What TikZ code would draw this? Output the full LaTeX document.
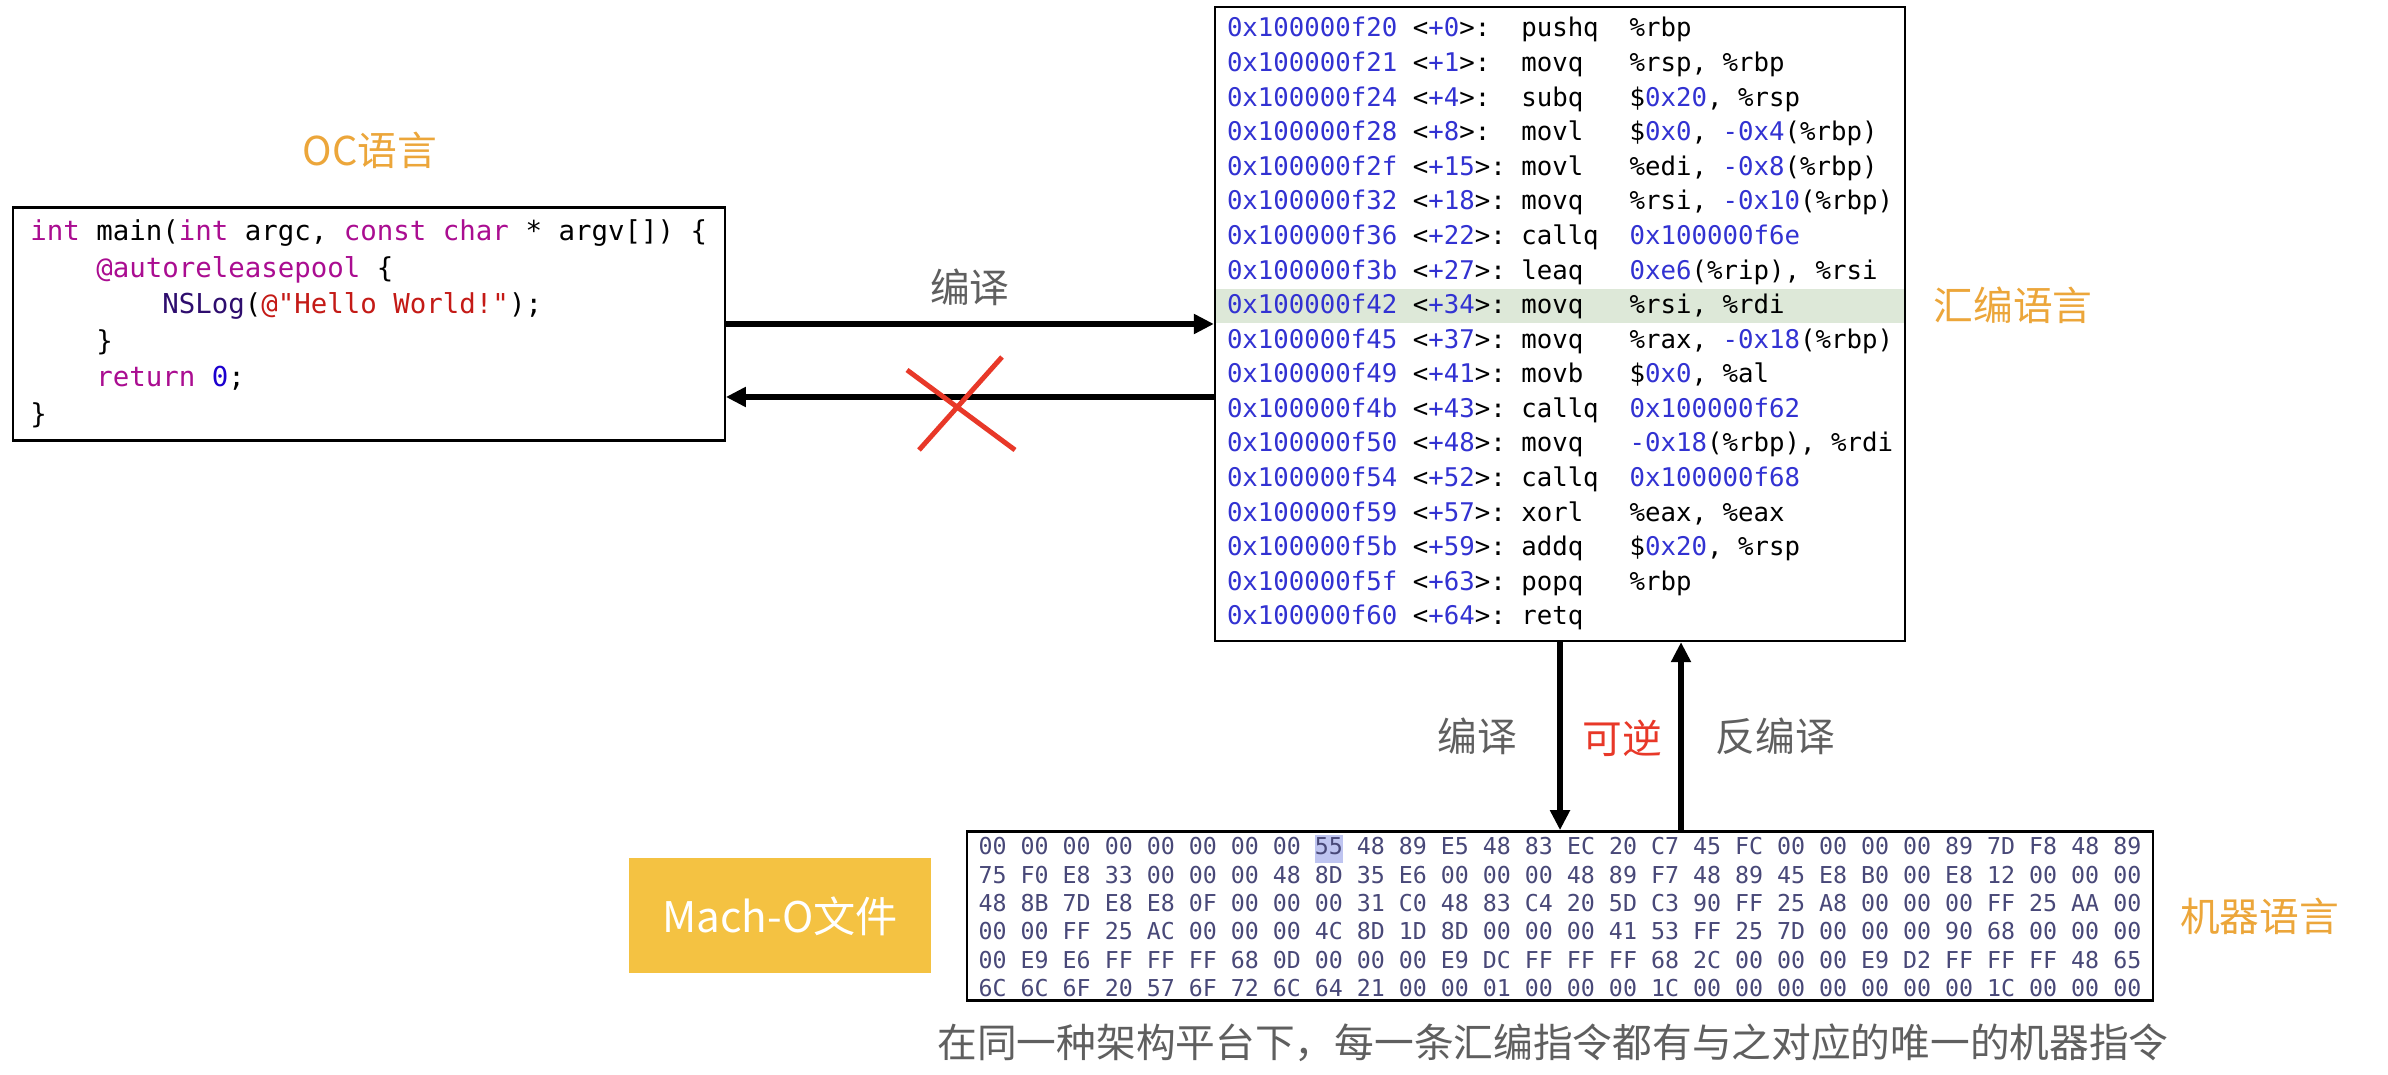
\documentclass[tikz,border=0pt]{standalone}
\usepackage{fontspec}
\usepackage{tikz}
\usetikzlibrary{arrows.meta, positioning}
\newfontfamily\cjk{Noto Sans CJK SC}
\newfontfamily\mono{DejaVu Sans Mono}
\definecolor{lblorange}{RGB}{236,166,58}
\definecolor{lblgray}{RGB}{95,95,95}
\definecolor{xred}{RGB}{232,56,40}
\definecolor{machogold}{RGB}{244,194,66}
\definecolor{asmblue}{RGB}{50,50,210}
\definecolor{rowgreen}{RGB}{221,232,216}
\definecolor{hexink}{RGB}{72,72,120}
\definecolor{hexmark}{RGB}{190,196,240}
\definecolor{kwpurple}{RGB}{170,13,145}
\definecolor{strred}{RGB}{196,26,22}
\definecolor{numblue}{RGB}{28,0,207}
\definecolor{fnnavy}{RGB}{46,13,110}
\newcommand{\asmnum}[1]{\textcolor{asmblue}{#1}}
\newcommand{\ockw}[1]{\textcolor{kwpurple}{#1}}
\newcommand{\asmline}[4]{\asmnum{#1} & <\asmnum{+#2}>: & #3 & #4}
\setlength{\fboxsep}{0pt}
\frenchspacing

\begin{document}
\begin{tikzpicture}[
  lbl/.style={font=\cjk\fontsize{11.3pt}{13pt}\selectfont, inner sep=0pt},
  flow/.style={-{Triangle[length=0.2cm, width=0.19cm]}, line width=1.6pt},
  codebox/.style={draw, line width=0.65pt}]
  % Canvas
  \fill[white] (0,0) rectangle (23.88,10.74);

  % Assembly listing, one row highlighted
  \fill[rowgreen] (12.15,7.51) rectangle (19.05,7.85);
  \node[codebox, minimum width=6.90cm, minimum height=6.34cm, inner ysep=0.05cm,
        font=\mono\fontsize{7.32pt}{9.84pt}\selectfont] (asm) at (15.60,7.50) {%
    \begin{tabular}{@{}l@{\ }l@{\ }l@{\ \ }l@{}}
    \asmline{0x100000f20}{0}{pushq}{\%rbp} \\
    \asmline{0x100000f21}{1}{movq}{\%rsp, \%rbp} \\
    \asmline{0x100000f24}{4}{subq}{\$\asmnum{0x20}, \%rsp} \\
    \asmline{0x100000f28}{8}{movl}{\$\asmnum{0x0}, \asmnum{-0x4}(\%rbp)} \\
    \asmline{0x100000f2f}{15}{movl}{\%edi, \asmnum{-0x8}(\%rbp)} \\
    \asmline{0x100000f32}{18}{movq}{\%rsi, \asmnum{-0x10}(\%rbp)} \\
    \asmline{0x100000f36}{22}{callq}{\asmnum{0x100000f6e}} \\
    \asmline{0x100000f3b}{27}{leaq}{\asmnum{0xe6}(\%rip), \%rsi} \\
    \asmline{0x100000f42}{34}{movq}{\%rsi, \%rdi} \\
    \asmline{0x100000f45}{37}{movq}{\%rax, \asmnum{-0x18}(\%rbp)} \\
    \asmline{0x100000f49}{41}{movb}{\$\asmnum{0x0}, \%al} \\
    \asmline{0x100000f4b}{43}{callq}{\asmnum{0x100000f62}} \\
    \asmline{0x100000f50}{48}{movq}{\asmnum{-0x18}(\%rbp), \%rdi} \\
    \asmline{0x100000f54}{52}{callq}{\asmnum{0x100000f68}} \\
    \asmline{0x100000f59}{57}{xorl}{\%eax, \%eax} \\
    \asmline{0x100000f5b}{59}{addq}{\$\asmnum{0x20}, \%rsp} \\
    \asmline{0x100000f5f}{63}{popq}{\%rbp} \\
    \asmline{0x100000f60}{64}{retq}{}
    \end{tabular}};
  \node[lbl, text=lblorange] (asmlang) at (20.13,7.69) {汇编语言};

  % Objective-C source
  \node[codebox, align=left, minimum width=7.12cm, minimum height=2.33cm,
        font=\mono\fontsize{7.8pt}{10.4pt}\selectfont, left=4.88cm of asm] (src) {%
    \ockw{int} main(\ockw{int} argc, \ockw{const} \ockw{char} * argv[]) \{\\
    \hphantom{0000}\ockw{@autoreleasepool} \{\\
    \hphantom{00000000}\textcolor{fnnavy}{NSLog}(\textcolor{strred}{@"Hello World!"});\\
    \hphantom{0000}\}\\
    \hphantom{0000}\ockw{return} \textcolor{numblue}{0};\\
    \}};
  \node[lbl, text=lblorange] (oclang) at (3.70,9.24) {OC语言};

  % Machine code bytes
  \node[codebox, line width=0.75pt, align=left, minimum width=11.77cm,
        minimum height=1.69cm, inner ysep=0pt, text=hexink,
        font=\mono\fontsize{6.62pt}{8.08pt}\selectfont, below=1.88cm of asm] (hex) {%
    00 00 00 00 00 00 00 00 \colorbox{hexmark}{\strut 55} 48 89 E5 48 83 EC 20 C7 45 FC 00 00 00 00 89 7D F8 48 89\\
    75 F0 E8 33 00 00 00 48 8D 35 E6 00 00 00 48 89 F7 48 89 45 E8 B0 00 E8 12 00 00 00\\
    48 8B 7D E8 E8 0F 00 00 00 31 C0 48 83 C4 20 5D C3 90 FF 25 A8 00 00 00 FF 25 AA 00\\
    00 00 FF 25 AC 00 00 00 4C 8D 1D 8D 00 00 00 41 53 FF 25 7D 00 00 00 90 68 00 00 00\\
    00 E9 E6 FF FF FF 68 0D 00 00 00 E9 DC FF FF FF 68 2C 00 00 00 E9 D2 FF FF FF 48 65\\
    6C 6C 6F 20 57 6F 72 6C 64 21 00 00 01 00 00 00 1C 00 00 00 00 00 00 00 1C 00 00 00};
  \node[lbl, text=lblorange, right=0.25cm of hex] (machlang) {机器语言};
  \node[fill=machogold, text=white, minimum width=3.02cm, minimum height=1.15cm,
        font=\cjk\fontsize{12pt}{14pt}\selectfont, left=0.34cm of hex] (macho) {Mach-O文件};

  % Source <-> assembly
  \draw[flow] (src.east) -- (asm.west)
    node[lbl, text=lblgray, midway, above=0.15cm] (cmptop) {编译};
  \draw[flow] ([yshift=-0.73cm]asm.west) -- ([yshift=-0.73cm]src.east);
  % Red cross over the way back
  \draw[xred, line width=1.4pt] (9.07,7.04) -- (10.15,6.24) (10.02,7.17) -- (9.19,6.24);

  % Assembly <-> machine code
  \draw[flow] (asm.south) -- (hex.north)
    node[lbl, text=lblgray, midway, left=0.40cm] (cmpdown) {编译};
  \draw[flow] ([xshift=1.21cm]hex.north) -- ([xshift=1.21cm]asm.south)
    node[lbl, text=lblgray, midway, right=0.32cm] (decomp) {反编译};
  \node[lbl, text=xred] (revers) at (16.22,3.36) {可逆};

  % Caption
  \node[lbl, text=lblgray] (note) at (15.53,0.31)
    {在同一种架构平台下，每一条汇编指令都有与之对应的唯一的机器指令};
\end{tikzpicture}
\end{document}
